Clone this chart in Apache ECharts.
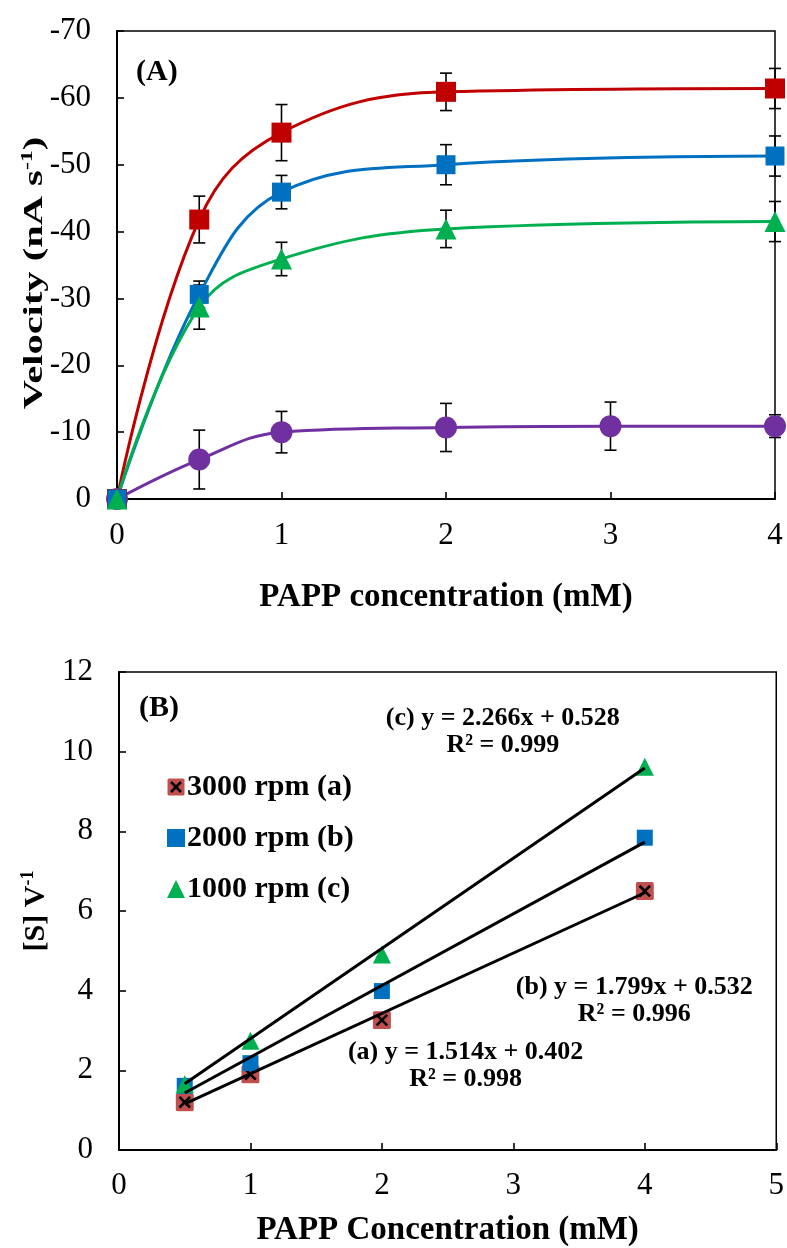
<!DOCTYPE html>
<html><head><meta charset="utf-8">
<script src="https://cdn.jsdelivr.net/npm/echarts@6/dist/echarts.min.js"></script>
<style>html,body{margin:0;padding:0;background:#fff}#c{width:787px;height:1248px}</style>
</head><body><div id="c"></div>
<script>
// ---------- Panel A data ----------
const concA = [0, 0.5, 1, 2, 4];
const concA_purple = [0, 0.5, 1, 2, 3, 4];
const velRed = [0, -41.8, -54.8, -60.9, -61.4];
const errRed = [0, 3.5, 4.2, 2.8, 3.0];
const velBlue = [0, -30.6, -45.9, -50.0, -51.3];
const errBlue = [0, 2.0, 2.5, 3.0, 3.0];
const velGreen = [0, -28.7, -35.9, -40.4, -41.5];
const errGreen = [0, 3.3, 2.5, 2.8, 3.0];
const velPurple = [0, -5.9, -10.0, -10.7, -10.9, -10.9];
const errPurple = [0, 4.4, 3.1, 3.6, 3.6, 1.7];

// ---------- Panel B data ----------
const concB = [0.5, 1, 2, 4];
const ratio3000 = [1.20, 1.90, 3.26, 6.50];
const ratio2000 = [1.61, 2.18, 3.99, 7.84];
const ratio1000 = [1.65, 2.74, 4.91, 9.62];
const trendX = [0.5, 4];
const trend3000 = [1.159, 6.458];
const trend2000 = [1.432, 7.728];
const trend1000 = [1.661, 9.592];
const eqLabels = ['(a) y = 1.514x + 0.402\nR² = 0.998', '(b) y = 1.799x + 0.532\nR² = 0.996', '(c) y = 2.266x + 0.528\nR² = 0.999'];
const eqPos = [[2.637, 2.12], [3.92, 3.75], [2.92, 10.51]];
const legendNames = ['3000 rpm (a)', '2000 rpm (b)', '1000 rpm (c)'];

const FONT = '"Liberation Serif", "Times New Roman", serif';
const zip = (xs, ys) => xs.map((x, i) => [x, ys[i]]);
const errData = (xs, ys, es) => xs.map((x, i) => [x, ys[i] - es[i], ys[i] + es[i]]).filter((d, i) => es[i] > 0);

function errorBar(data) {
  return {
    type: 'custom', xAxisIndex: 0, yAxisIndex: 0, z: 1, silent: true,
    data: data,
    renderItem: function (params, api) {
      const x = api.value(0);
      const p1 = api.coord([x, api.value(1)]);
      const p2 = api.coord([x, api.value(2)]);
      const w = 6;
      const st = { stroke: '#000', lineWidth: 1.6 };
      return { type: 'group', children: [
        { type: 'line', shape: { x1: p1[0], y1: p1[1], x2: p2[0], y2: p2[1] }, style: st },
        { type: 'line', shape: { x1: p1[0] - w, y1: p1[1], x2: p1[0] + w, y2: p1[1] }, style: st },
        { type: 'line', shape: { x1: p2[0] - w, y1: p2[1], x2: p2[0] + w, y2: p2[1] }, style: st }
      ]};
    }
  };
}

function lineA(xs, ys, color, symbol, size) {
  return {
    type: 'line', xAxisIndex: 0, yAxisIndex: 0, z: 3,
    data: zip(xs, ys), smooth: 0.4, symbol: symbol, symbolSize: size,
    lineStyle: { color: color, width: 3 }, itemStyle: { color: color, opacity: 1 },
    clip: false
  };
}

const xSvg = "<svg xmlns='http://www.w3.org/2000/svg' width='36' height='36'><rect x='1' y='1' width='34' height='34' rx='3' fill='#C0504D'/><path d='M8 8L28 28M28 8L8 28' stroke='black' stroke-width='5'/></svg>";
const xSymbol = 'image://data:image/svg+xml;charset=utf-8,' + encodeURIComponent(xSvg);

const axisLineBlack = { show: true, lineStyle: { color: '#000', width: 2 } };
const tickInside = { show: true, inside: true, length: 7, lineStyle: { color: '#000', width: 1.6 } };
const labelStyle = { color: '#000', fontFamily: FONT, fontSize: 31 };
const titleRich = {
  b: { fontFamily: FONT, fontWeight: 'bold', fontSize: 30, color: '#000', lineHeight: 34 },
  s: { fontFamily: FONT, fontWeight: 'bold', fontSize: 18, color: '#000', verticalAlign: 'top', lineHeight: 34 }
};

const chart = echarts.init(document.getElementById('c'));
chart.setOption({
  animation: false,
  backgroundColor: '#fff',
  grid: [
    { left: 117, top: 31, width: 658, height: 468, show: true, borderColor: '#000', borderWidth: 1.5 },
    { left: 119, top: 672, width: 658, height: 479, show: true, borderColor: '#000', borderWidth: 1.5 }
  ],
  xAxis: [
    { gridIndex: 0, type: 'value', min: 0, max: 4, interval: 1,
      axisLine: axisLineBlack, axisTick: tickInside, splitLine: { show: false },
      axisLabel: Object.assign({ margin: 21 }, labelStyle),
      name: 'PAPP concentration (mM)', nameLocation: 'middle', nameGap: 82,
      nameTextStyle: { color: '#000', fontFamily: FONT, fontWeight: 'bold', fontSize: 33 } },
    { gridIndex: 1, type: 'value', min: 0, max: 5, interval: 1,
      axisLine: axisLineBlack, axisTick: tickInside, splitLine: { show: false },
      axisLabel: Object.assign({ margin: 20 }, labelStyle),
      name: 'PAPP Concentration (mM)', nameLocation: 'middle', nameGap: 64,
      nameTextStyle: { color: '#000', fontFamily: FONT, fontWeight: 'bold', fontSize: 33 } }
  ],
  yAxis: [
    { gridIndex: 0, type: 'value', min: -70, max: 0, interval: 10, inverse: true,
      axisLine: axisLineBlack, axisTick: tickInside, splitLine: { show: false },
      axisLabel: Object.assign({ margin: 26 }, labelStyle) },
    { gridIndex: 1, type: 'value', min: 0, max: 12, interval: 2,
      axisLine: axisLineBlack, axisTick: tickInside, splitLine: { show: false },
      axisLabel: Object.assign({ margin: 26 }, labelStyle),
      name: '{b|[S] V}{s|-1}', nameLocation: 'middle', nameGap: 58,
      nameTextStyle: { color: '#000', rich: titleRich } }
  ],
  legend: {
    orient: 'vertical', left: 162, top: 767, itemGap: 21, itemWidth: 18, itemHeight: 18,
    data: [
      { name: legendNames[0], icon: xSymbol },
      { name: legendNames[1], icon: 'rect', itemStyle: { opacity: 1 } },
      { name: legendNames[2], icon: 'triangle', itemStyle: { opacity: 1 } }
    ],
    textStyle: { color: '#000', fontFamily: FONT, fontWeight: 'bold', fontSize: 30, padding: [0, 0, 0, -3] }
  },
  graphic: [
    { type: 'text', left: 136, top: 57, style: { text: '(A)', font: 'bold 30px ' + FONT, fill: '#000' } },
    { type: 'text', left: 139, top: 693, style: { text: '(B)', font: 'bold 30px ' + FONT, fill: '#000' } },
    { type: 'text', x: 35, y: 273, rotation: Math.PI / 2, scaleX: 1.5, scaleY: 1,
      style: { text: '{b|Velocity (nA s}{s|-1}{b|)}', align: 'center', verticalAlign: 'middle',
        rich: {
          b: { font: 'bold 27px ' + FONT, fill: '#000', lineHeight: 30 },
          s: { font: 'bold 16px ' + FONT, fill: '#000', verticalAlign: 'top', lineHeight: 30 }
        } } }
  ],
  series: [
    errorBar(errData(concA, velRed, errRed)),
    errorBar(errData(concA, velBlue, errBlue)),
    errorBar(errData(concA, velGreen, errGreen)),
    errorBar(errData(concA_purple, velPurple, errPurple)),
    lineA(concA_purple, velPurple, '#7030A0', 'circle', 22),
    lineA(concA, velRed, '#C00000', 'rect', 20),
    lineA(concA, velBlue, '#0070C0', 'rect', 19),
    lineA(concA, velGreen, '#00B050', 'triangle', 21),
    // Panel B trendlines
    { type: 'line', xAxisIndex: 1, yAxisIndex: 1, data: zip(trendX, trend3000), symbol: 'none', lineStyle: { color: '#000', width: 3 }, z: 4 },
    { type: 'line', xAxisIndex: 1, yAxisIndex: 1, data: zip(trendX, trend2000), symbol: 'none', lineStyle: { color: '#000', width: 3 }, z: 4 },
    { type: 'line', xAxisIndex: 1, yAxisIndex: 1, data: zip(trendX, trend1000), symbol: 'none', lineStyle: { color: '#000', width: 3 }, z: 4 },
    // Panel B points
    { name: legendNames[0], type: 'scatter', xAxisIndex: 1, yAxisIndex: 1, data: zip(concB, ratio3000), symbol: xSymbol, symbolSize: 19, itemStyle: { color: '#C0504D', opacity: 1 }, z: 3 },
    { name: legendNames[1], type: 'scatter', xAxisIndex: 1, yAxisIndex: 1, data: zip(concB, ratio2000), symbol: 'rect', symbolSize: 16, itemStyle: { color: '#0070C0', opacity: 1 }, z: 3 },
    { name: legendNames[2], type: 'scatter', xAxisIndex: 1, yAxisIndex: 1, data: zip(concB, ratio1000), symbol: 'triangle', symbolSize: 18, itemStyle: { color: '#00B050', opacity: 1 }, z: 3 },
    // Equation labels
    { type: 'scatter', xAxisIndex: 1, yAxisIndex: 1, symbolSize: 1, silent: true, z: 5,
      itemStyle: { opacity: 0 },
      data: eqPos.map((p, i) => ({ value: p, label: { show: true, formatter: eqLabels[i] } })),
      label: { show: true, position: 'inside', align: 'center', verticalAlign: 'middle', opacity: 1,
        color: '#000', fontFamily: FONT, fontWeight: 'bold', fontSize: 26, lineHeight: 27,
        textBorderWidth: 0 } }
  ]
});
</script></body></html>
